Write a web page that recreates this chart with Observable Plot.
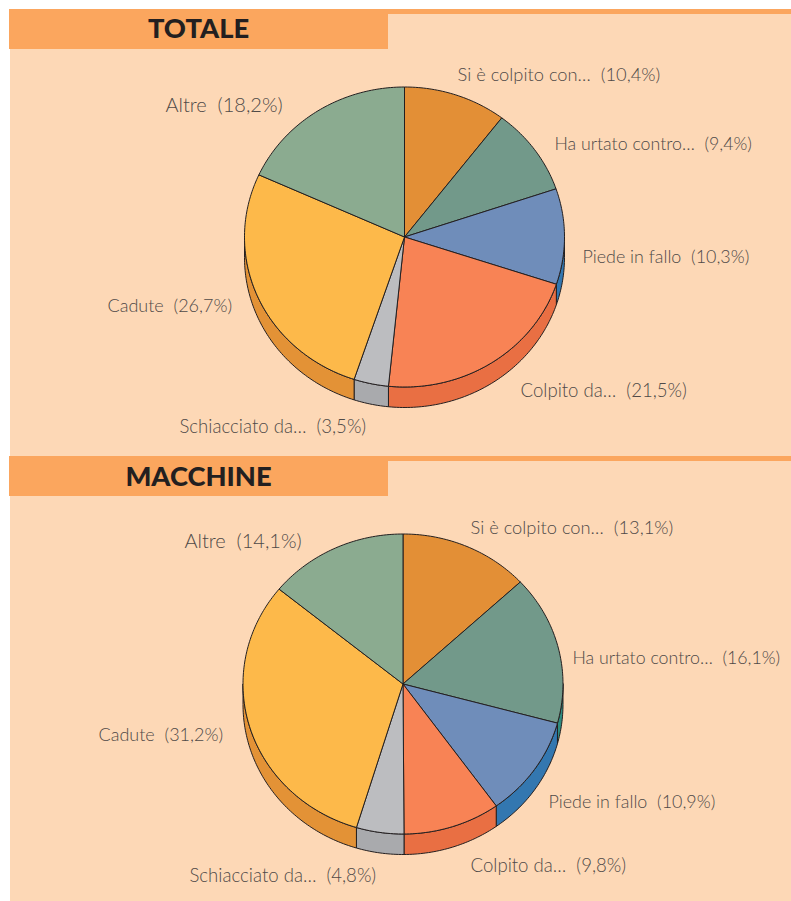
<!DOCTYPE html>
<html>
<head>
<meta charset="utf-8">
<script src="https://cdn.jsdelivr.net/npm/d3@7"></script>
<script src="https://cdn.jsdelivr.net/npm/@observablehq/plot@0.6"></script>
<style>
html,body{margin:0;padding:0;background:#fff}
svg{display:block}
</style>
</head>
<body>
<div id="chart"></div>
<script>
const categories = ["Si è colpito con…","Ha urtato contro…","Piede in fallo","Colpito da…","Schiacciato da…","Cadute","Altre"];
const totaleValues = [10.4,9.4,10.3,21.5,3.5,26.7,18.2];
const macchineValues = [13.1,16.1,10.9,9.8,4.8,31.2,14.1];
const panelTitles = ["TOTALE","MACCHINE"];
const topColors = ["#E38F36","#72998A","#6F8DBA","#F88355","#BCBDC0","#FDB94A","#8BAB90"];
const sideColors = ["#E38F36","#2F8C80","#3377B0","#E96F43","#A9AAAD","#E39236","#8BAB90"];
const labelSizes = [18.3,17.75,17.9,18.6,18.6,18,20];

const W = 791, H = 901;
const BG = "#FDD8B6", BAND = "#FBA65E", INK = "#231F20", LABEL = "#4F4A48";
const FONT = "Lato, sans-serif";
const layout = [
  {top:9, bottom:456, titleX:198, titleY:28.5, cx:404, cy:236.5,
   labels:[[457,75],[554,144],[582,257],[520,391],[179,427],[107,306],[165,105]]},
  {top:456, bottom:901, titleX:198, titleY:476.5, cx:402.5, cy:683.5,
   labels:[[470,528],[572,658],[548,802],[470,866],[189,876],[98,735],[184,541]]}
];
const TITLE_SIZE = 27.3;
const RX = 160, RY = 150, DEPTH = 20.5;

const pt = (p, a, d = 0) => {
  const r = a * Math.PI / 180;
  return [p.cx + RX * Math.sin(r), p.cy - RY * Math.cos(r) + d];
};
const arcPts = (p, a0, a1, d = 0) => {
  const n = Math.max(2, Math.ceil(Math.abs(a1 - a0)));
  return d3.range(n + 1).map(i => pt(p, a0 + (a1 - a0) * i / n, d));
};

const tops = [], sides = [], labels = [];
[totaleValues, macchineValues].forEach((values, pi) => {
  const p = layout[pi];
  let acc = 0;
  values.forEach((v, i) => {
    const a0 = acc * 3.6, a1 = (acc + v) * 3.6;
    acc += v;
    const key = pi + "-" + i;
    [[p.cx, p.cy], ...arcPts(p, a0, a1), [p.cx, p.cy]].forEach(([x, y]) => tops.push({key, x, y, fill: topColors[i]}));
    const s0 = Math.max(a0, 90), s1 = Math.min(a1, 270);
    if (s1 > s0) {
      const up = arcPts(p, s0, s1), down = arcPts(p, s1, s0, DEPTH);
      [...up, ...down, up[0]].forEach(([x, y]) => sides.push({key, x, y, fill: sideColors[i]}));
    }
    labels.push({
      text: categories[i] + "\u00A0\u00A0(" + v.toFixed(1).replace(".", ",") + "%)",
      x: p.labels[i][0], y: p.labels[i][1],
      size: labelSizes[i]
    });
  });
});

const plot = Plot.plot({
  width: W, height: H,
  margin: 0,
  x: {domain: [0, W], range: [0, W], axis: null},
  y: {domain: [0, H], range: [0, H], axis: null},
  color: {type: "identity"},
  style: {background: "#fff"},
  marks: [
    Plot.rect(layout, {x1: () => 10, x2: () => W, y1: "top", y2: "bottom", fill: BG}),
    Plot.rect(layout, {x1: () => 10, x2: () => W, y1: "top", y2: d => d.top + 5, fill: BAND}),
    Plot.rect(layout, {x1: () => 9, x2: () => 388, y1: "top", y2: d => d.top + 40, fill: BAND}),
    Plot.text(layout, {x: "titleX", y: "titleY", text: (d, i) => panelTitles[i], fontSize: TITLE_SIZE,
      fontFamily: FONT, fontWeight: 900, fill: INK, textAnchor: "middle", lineAnchor: "middle"}),
    Plot.line(sides, {x: "x", y: "y", z: "key", fill: "fill", stroke: INK, strokeWidth: 1, curve: "linear"}),
    Plot.line(tops, {x: "x", y: "y", z: "key", fill: "fill", stroke: INK, strokeWidth: 1, curve: "linear"}),
    Plot.text(labels, {x: "x", y: "y", text: "text", fontSize: "size", fontFamily: FONT, fontWeight: 300,
      fill: LABEL, textAnchor: "start", lineAnchor: "middle"})
  ]
});
document.getElementById("chart").appendChild(plot);
</script>
</body>
</html>
